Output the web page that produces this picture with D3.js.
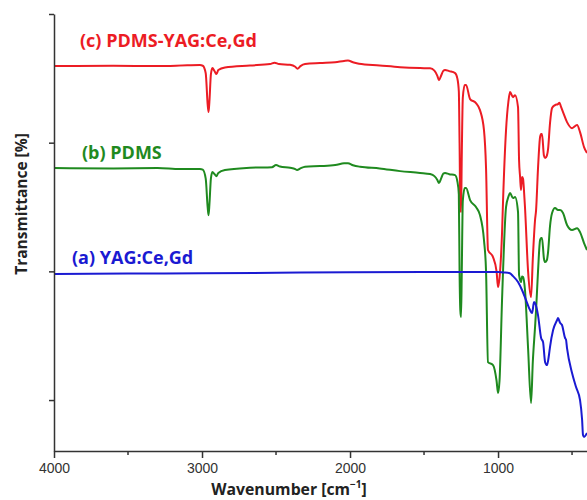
<!DOCTYPE html>
<html>
<head>
<meta charset="utf-8">
<script src="https://cdn.jsdelivr.net/npm/d3@7"></script>
<style>
  body { margin: 0; background: #fff; }
  svg { display: block; }
</style>
</head>
<body>
<div id="chart"></div>
<script>
////////////////////////////////////////////////////////////////////////
// Data: [wavenumber cm-1, transmittance (offset, a.u.)]

let seriesC = [
  [4000,259.5],[3600,259.7],[3300,259.5],[3100,260.1],[3014,260.3],[2995,259.8],
  [2975,254],[2962,230],[2956,223.8],[2950,232],[2940,253],[2930,258],[2915,255.5],
  [2902,253.3],[2890,256.5],[2845,258.5],[2676,260],[2540,261.1],[2510,262.2],
  [2480,261.1],[2405,260.5],[2370,259],[2355,257.5],[2335,259.5],[2304,261.1],
  [2203,261.9],[2100,262.5],[2040,263.5],[2014,263.8],[1980,262.5],[1940,261.3],
  [1800,260],[1662,258.7],[1527,258],[1459,257.8],[1430,256],[1410,252],[1399,248.6],
  [1385,252],[1370,255.8],[1358,256.5],[1330,255.6],[1290,254.1],[1275,250],[1265,240],
  [1260,200],[1255,150],[1250,146.1],[1245,190],[1238,235],[1225,244.8],[1216,244.8],
  [1189,233.9],[1149,230.8],[1122,225.3],[1095,209.8],[1081,180],[1068,116.6],
  [1034,111.1],[1010,100],[1000,87.8],[990,95],[973,130],[966,155.4],[946,209.8],
  [930,232],[919,239.3],[899,235.4],[885,236.9],[865,227.7],[858,186.5],[851,173.3],
  [845,163.2],[838,173.3],[831,172],[825,163.2],[818,150],[797,100],[777,80],
  [765,110],[750,139.9],[743,147.6],[730,180],[716,204.4],[709,206.7],[703,206.7],
  [690,190],[682,188],[670,190],[662,195],[649,215],[635,226.9],[615,229.2],
  [595,230],[585,231],[575,228],[561,223.8],[534,216],[500,211.3],[466,213.7],
  [446,208.2],[419,196.6],[399,191.9]
];

let seriesB = [
  [4000,180.3],[3600,180],[3300,180.3],[3149,179.5],[3014,179.5],[2995,179],
  [2975,172],[2962,150],[2956,143.7],[2950,152],[2940,172],[2930,177.2],[2915,175.5],
  [2902,174],[2890,176.5],[2845,178.7],[2676,180.5],[2527,181],[2500,182.6],
  [2473,181.5],[2405,180.5],[2370,179.5],[2358,178.7],[2335,180],[2304,181.3],
  [2203,181.8],[2100,182.6],[2040,184],[2014,184.1],[1980,182.5],[1932,181.3],
  [1800,180],[1662,177.9],[1527,176.5],[1459,175.6],[1430,174],[1410,171],[1399,168.6],
  [1385,172],[1370,176],[1358,176.4],[1330,175.5],[1290,174.8],[1275,170],[1265,160],
  [1260,100],[1255,70],[1250,64.5],[1245,100],[1238,155],[1225,164.7],[1216,164.7],
  [1189,155.4],[1149,150],[1122,143.7],[1095,124.3],[1081,100],[1068,29.5],
  [1034,27.2],[1010,15],[1000,5.4],[990,15],[973,77.7],[946,150],[930,158],
  [919,160.8],[899,157],[885,157.7],[865,146.1],[858,97.1],[845,91.7],[838,96],
  [831,95.6],[818,85.5],[797,40],[777,-2.3],[765,30],[750,56.7],[743,69.9],
  [730,100],[716,124.3],[709,125.9],[703,125.9],[690,110],[682,107.2],[670,108.8],
  [662,115],[649,135],[635,145.3],[615,149.3],[595,147.6],[581,147.6],[561,145.3],
  [534,136],[500,132.1],[466,133.6],[446,130.5],[419,122],[399,116.6]
];

let seriesA = [
  [4000,97.9],[3500,98.3],[3000,98.5],[2500,98.9],[2000,99.3],[1500,99.5],
  [1200,99.5],[1000,99.5],[960,99.2],[920,98.5],[899,96.3],[865,91.7],[838,85.5],
  [811,77.7],[784,69.9],[770,67.6],[757,76.1],[745,74],[730,66],[709,48.2],
  [696,45.1],[682,29.5],[669,27.2],[656,35],[649,41.2],[628,54.4],[601,62.2],
  [595,63.7],[581,60],[568,58.3],[547,48.2],[541,47],[534,40.4],[500,21],
  [473,10.1],[446,0],[432,-15.5],[426,-27.2],[419,-28.7],[399,-25.6]
];

let seriesNames = ["(c) PDMS-YAG:Ce,Gd", "(b) PDMS", "(a) YAG:Ce,Gd"];
let seriesColors = ["#ec1c24", "#1f8a1f", "#1a1ad2"];
let xMajorTicks = [4000, 3000, 2000, 1000];
let xMinorTicks = [3500, 2500, 1500, 500];
let yTicks = [0, 100, 200, 300];

////////////////////////////////////////////////////////////////////////
// svg and scales

let width = 587;
let height = 500;
let margin = {left: 54, top: 14, bottom: 49};

let svg = d3.select("#chart")
  .append("svg")
  .attr("width", width).attr("height", height);

let xScale = d3.scaleLinear()
  .domain([4000, 399])
  .range([margin.left, width]);

let yScale = d3.scaleLinear()
  .domain([-39.6, 300])
  .range([height - margin.bottom, margin.top]);

let axisColor = "#333";
let font = "'Open Sans', 'Liberation Sans', sans-serif";

////////////////////////////////////////////////////////////////////////
// spectra

let line = d3.line()
  .x(function(d) { return xScale(d[0]); })
  .y(function(d) { return yScale(d[1]); })
  .curve(d3.curveMonotoneX);

let allSeries = [seriesC, seriesB, seriesA];

svg.append("g")
  .selectAll(".spectrum")
  .data(allSeries)
  .enter()
  .append("path")
  .attr("class", "spectrum")
  .attr("d", line)
  .attr("fill", "none")
  .attr("stroke", function(d, i) { return seriesColors[i]; })
  .attr("stroke-width", 2)
  .attr("stroke-linejoin", "round");

////////////////////////////////////////////////////////////////////////
// axes

let xAxis = d3.axisBottom(xScale)
  .tickValues(xMajorTicks)
  .tickFormat(d3.format("d"))
  .tickSize(7)
  .tickSizeOuter(0)
  .tickPadding(5);

let gx = svg.append("g")
  .attr("class", "axis")
  .attr("transform", "translate(0," + (height - margin.bottom) + ")")
  .call(xAxis);

gx.selectAll(".tick")
  .filter(function(d) { return d === 4000; })
  .select("line").attr("y1", 0);

gx.selectAll(".minor")
  .data(xMinorTicks).enter()
  .append("line")
  .attr("class", "minor")
  .attr("x1", function(d) { return xScale(d); })
  .attr("x2", function(d) { return xScale(d); })
  .attr("y1", 0).attr("y2", 4)
  .attr("stroke", axisColor);

let yAxis = d3.axisLeft(yScale)
  .tickValues(yTicks)
  .tickSize(5)
  .tickSizeOuter(0)
  .tickFormat("");

let gy = svg.append("g")
  .attr("class", "axis")
  .attr("transform", "translate(" + margin.left + ",0)")
  .call(yAxis);

svg.selectAll(".axis path, .axis line")
  .attr("stroke", axisColor)
  .attr("stroke-width", 1.5);

svg.selectAll(".minor").attr("stroke-width", 1.5);

gx.selectAll("text")
  .attr("fill", "#333")
  .style("font-family", "'Liberation Sans', Arial, sans-serif")
  .style("font-size", "14px");

// axis titles
svg.append("text")
  .attr("x", 289).attr("y", 495)
  .attr("text-anchor", "middle")
  .style("font-family", font)
  .style("font-weight", "bold")
  .style("font-size", "15.8px")
  .attr("fill", "#222")
  .call(function(t) {
    t.append("tspan").text("Wavenumber [cm");
    t.append("tspan").attr("dy", -7).style("font-size", "10px").text("\u22121");
    t.append("tspan").attr("dy", 7).text("]");
  });

svg.append("text")
  .attr("transform", "translate(27,204) rotate(-90)")
  .attr("text-anchor", "middle")
  .style("font-family", font)
  .style("font-weight", "bold")
  .style("font-size", "15.5px")
  .attr("fill", "#222")
  .text("Transmittance [%]");

// series labels
let labelPos = [[80, 47], [82, 159], [72, 264]];

svg.selectAll(".label")
  .data(seriesNames).enter()
  .append("text")
  .attr("class", "label")
  .attr("x", function(d, i) { return labelPos[i][0]; })
  .attr("y", function(d, i) { return labelPos[i][1]; })
  .attr("fill", function(d, i) { return seriesColors[i]; })
  .style("font-family", font)
  .style("font-weight", "bold")
  .style("font-size", "18px")
  .text(function(d) { return d; });
</script>
</body>
</html>
